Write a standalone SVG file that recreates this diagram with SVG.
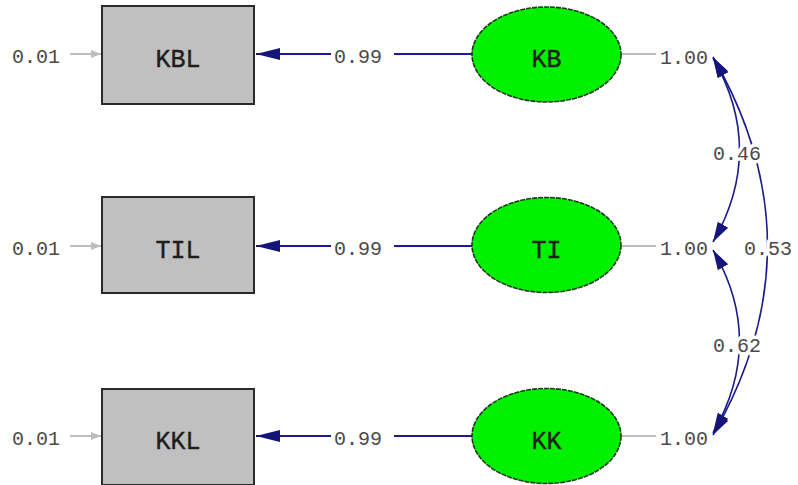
<svg xmlns="http://www.w3.org/2000/svg" width="798" height="485" viewBox="0 0 798 485">
<style>
.box{fill:#c0c0c0;stroke:#2b2b2b;stroke-width:2}
.lat{fill:#00f000;stroke:#1a3a1a;stroke-width:1.6;stroke-dasharray:5 1}
.nt{font-family:"Liberation Mono","Courier New",monospace;font-size:25px;fill:#1e1e1e;text-anchor:middle;stroke:#1e1e1e;stroke-width:0.4}
.lb{font-family:"Liberation Mono","Courier New",monospace;font-size:20px;fill:#4a4a4a}
.err{stroke:#bdbdbd;stroke-width:2;fill:none}
.load{stroke:#1c1c8c;stroke-width:2.2;fill:none}
.cov{stroke:#1c1c8c;stroke-width:1.6;fill:none}
.halo{stroke:#ffffff;stroke-width:7;paint-order:stroke;stroke-linejoin:round}
</style>
<defs>
<marker id="ah" markerUnits="userSpaceOnUse" markerWidth="26" markerHeight="14" refX="24" refY="7" orient="auto">
<path d="M0 1 L24 7 L0 13 Z" fill="#14147a"/>
</marker>
<marker id="ahg" markerUnits="userSpaceOnUse" markerWidth="12" markerHeight="10" refX="10" refY="5" orient="auto">
<path d="M0 1 L10 5 L0 9 Z" fill="#bdbdbd"/>
</marker>
<marker id="ahc" markerUnits="userSpaceOnUse" markerWidth="22" markerHeight="14" refX="20" refY="7" orient="auto-start-reverse">
<path d="M0 1 L20 7 L0 13 Z" fill="#14147a"/>
</marker>
</defs>

<g id="connectors">
<path class="err" d="M70 54 H101" marker-end="url(#ahg)"/>
<path class="err" d="M70 246 H101" marker-end="url(#ahg)"/>
<path class="err" d="M70 436 H101" marker-end="url(#ahg)"/>
<path class="load" d="M472 54 H394 M331 54 H256" marker-end="url(#ah)"/>
<path class="load" d="M472 246 H394 M331 246 H256" marker-end="url(#ah)"/>
<path class="load" d="M472 436 H394 M331 436 H256" marker-end="url(#ah)"/>
<path class="err" d="M621 54 H656"/>
<path class="err" d="M621 246 H656"/>
<path class="err" d="M621 436 H656"/>
<path class="cov" d="M713 57 Q822 246 713 435" marker-start="url(#ahc)" marker-end="url(#ahc)"/>
<path class="cov" d="M713 58 Q766 150 713 242" marker-start="url(#ahc)" marker-end="url(#ahc)"/>
<path class="cov" d="M713 250 Q766 341 713 433" marker-start="url(#ahc)" marker-end="url(#ahc)"/>
<text class="lb halo" x="12" y="63">0.01</text>
<text class="lb halo" x="12" y="255">0.01</text>
<text class="lb halo" x="12" y="445">0.01</text>
<text class="lb" x="334" y="63">0.99</text>
<text class="lb" x="334" y="255">0.99</text>
<text class="lb" x="334" y="445">0.99</text>
<text class="lb" x="660" y="64">1.00</text>
<text class="lb" x="660" y="255">1.00</text>
<text class="lb" x="660" y="445">1.00</text>
<text class="lb halo" x="713" y="160">0.46</text>
<text class="lb halo" x="744" y="255">0.53</text>
<text class="lb halo" x="713" y="352">0.62</text>
</g>

<g id="KBL"><rect class="box" x="102" y="6" width="152" height="98"/><text class="nt" x="178" y="67">KBL</text></g>
<g id="TIL"><rect class="box" x="102" y="197" width="152" height="96"/><text class="nt" x="178" y="258">TIL</text></g>
<g id="KKL"><rect class="box" x="102" y="389" width="152" height="96"/><text class="nt" x="178" y="449">KKL</text></g>
<g id="KB"><ellipse class="lat" cx="546.5" cy="54.5" rx="74.5" ry="47.5"/><text class="nt" x="546.5" y="67">KB</text></g>
<g id="TI"><ellipse class="lat" cx="546.5" cy="245" rx="74.5" ry="47.5"/><text class="nt" x="546.5" y="258">TI</text></g>
<g id="KK"><ellipse class="lat" cx="546.5" cy="436" rx="74.5" ry="47.5"/><text class="nt" x="546.5" y="449">KK</text></g>
</svg>
